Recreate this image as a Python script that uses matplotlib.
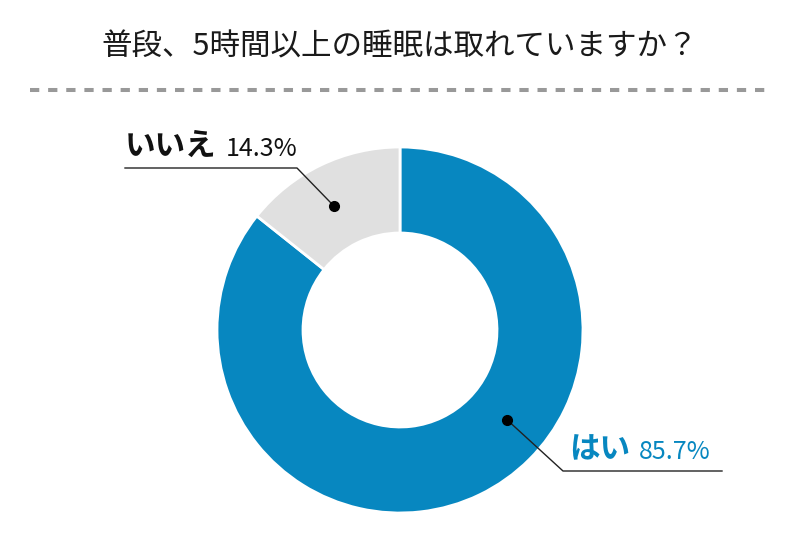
import numpy as np
import matplotlib.pyplot as plt

plt.rcParams['font.family'] = ['Noto Sans CJK JP', 'DejaVu Sans']

title = '普段、5時間以上の睡眠は取れていますか？'
labels = ['はい', 'いいえ']
values = [85.7, 14.3]
colors = ['#0787c0', '#e0e0e0']
text_colors = ['#0787c0', '#111111']

fig = plt.figure(figsize=(8, 5.6), dpi=100)
ax = fig.add_axes([0, 0, 1, 1])

cx, cy = 400, 230
r_out, r_in = 183, 97

wedges, _ = ax.pie(values, colors=colors, startangle=90, counterclock=False,
                   center=(cx, cy), radius=r_out,
                   wedgeprops=dict(width=r_out - r_in, edgecolor='white', linewidth=2))
ax.set_xlim(0, 800)
ax.set_ylim(0, 560)
ax.set_aspect('equal')
ax.axis('off')

# title and dashed rule
ax.text(400, 513, title, ha='center', va='center', fontsize=22, color='#1a1a1a')
ax.plot([30, 770], [470, 470], color='#999999', lw=2.9, dashes=(2.3, 2.2))

# callouts: angle of dot, elbow point, end of horizontal line
r_mid = (r_out + r_in) / 2
dot_angles = [-40, 118]
elbows = [(563, 89), (297, 392)]
ends = [722, 125]
for i, lab in enumerate(labels):
    a = np.deg2rad(dot_angles[i])
    dx, dy = cx + r_mid * np.cos(a), cy + r_mid * np.sin(a)
    ex, ey = elbows[i]
    ax.plot([dx, ex, ends[i]], [dy, ey, ey], color='#222222', lw=1)
    ax.plot(dx, dy, 'o', color='black', ms=7)
    x0 = min(ex, ends[i])
    t = ax.text(x0 + 6 if i == 0 else x0, ey + 6, lab, ha='left', va='bottom',
                fontsize=22, fontweight='bold', color=text_colors[i])
    fig.canvas.draw()
    bb = t.get_window_extent().transformed(ax.transData.inverted())
    ax.text(bb.x1 + 9, ey + 6, f'{values[i]}%', ha='left', va='bottom',
            fontsize=18, color=text_colors[i])

fig.savefig('out.png', dpi=100)
